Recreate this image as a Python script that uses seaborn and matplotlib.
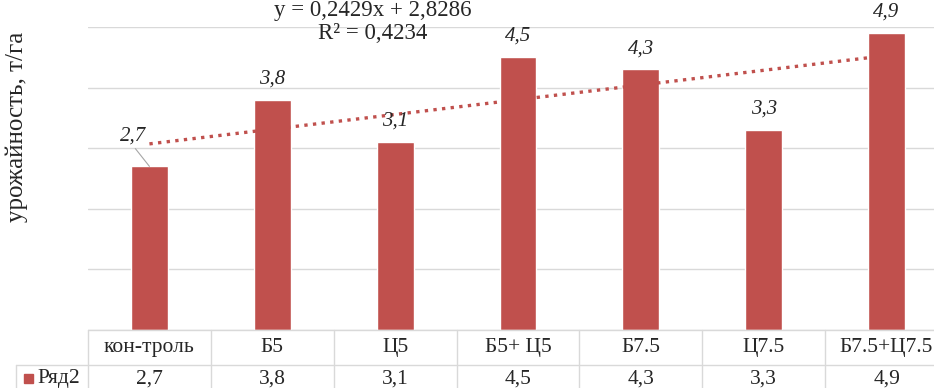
import matplotlib.pyplot as plt
import matplotlib.transforms as mtransforms
import numpy as np
import pandas as pd
import seaborn as sns

categories = ["кон-троль", "Б5", "Ц5", "Б5+ Ц5", "Б7.5", "Ц7.5", "Б7.5+Ц7.5"]
values = [2.7, 3.8, 3.1, 4.5, 4.3, 3.3, 4.9]
series_name = "Ряд2"
y_label = "урожайность, т/га"

bar_color = "#C0504D"
grid_color = "#D9D9D9"

sns.set_style("white")
plt.rcParams["font.family"] = ["Liberation Serif", "DejaVu Serif"]

df = pd.DataFrame({"cat": categories, "val": values})

fig = plt.figure(figsize=(9.34, 3.88), dpi=100)
# the original chart is cropped on the right, so the axes run past the edge
ax = fig.add_axes([88 / 934, 58 / 388, 860 / 934, 303 / 388])

sns.barplot(data=df, x="cat", y="val", color=bar_color, width=0.30,
            saturation=1, ax=ax, zorder=2)

# linear trend line (Excel style), x = 1..n
xs = np.arange(1, len(values) + 1)
slope, intercept = np.polyfit(xs, values, 1)
r2 = np.corrcoef(xs, values)[0, 1] ** 2
sns.lineplot(x=xs - 1, y=slope * xs + intercept, color="#C0504D", lw=2.4,
             linestyle=(0, (1, 1.6)), ax=ax, zorder=3)

ax.set_ylim(0, 5)
ax.set_xlim(-0.5, len(categories) - 0.5)
ax.set_yticks(range(0, 6))
ax.grid(axis="y", color=grid_color, lw=1, zorder=0)
ax.tick_params(left=False, bottom=False, labelleft=False, labelbottom=False)
for s in ax.spines.values():
    s.set_visible(False)
ax.set_xlabel("")
ax.set_ylabel("")

# data labels
for i, v in enumerate(values):
    txt = f"{v:.1f}".replace(".", ",")
    if i == 0:
        ax.annotate(txt, (i, v), xytext=(-12, 22), textcoords="offset points",
                    ha="center", va="center", fontsize=15, style="italic",
                    arrowprops=dict(arrowstyle="-", color="#A6A6A6", lw=0.8,
                                    shrinkA=0, shrinkB=0, relpos=(0.5, 0)))
    else:
        ax.annotate(txt, (i, v), xytext=(0, 15), textcoords="offset points",
                    ha="center", va="center", fontsize=15, style="italic")

# trendline equation
eq = f"y = {slope:.4f}x + {intercept:.4f}".replace(".", ",")
ax.text(1.82, 5.28, eq, ha="center", va="center", fontsize=16.5, clip_on=False)
ax.text(1.82, 4.9, f"R² = {r2:.4f}".replace(".", ","), ha="center", va="center",
        fontsize=16.5, clip_on=False)

fig.text(17 / 934, 1 - 127 / 388, y_label, rotation=90, ha="center", va="center",
         fontsize=18)

# data table under the plot
tr = mtransforms.blended_transform_factory(ax.transData, ax.transAxes)
row1 = -35 / 303
row2 = -58 / 303
n = len(categories)
line_kw = dict(color=grid_color, lw=1, clip_on=False)
ax.plot([-0.5, n - 0.5], [0, 0], transform=tr, **line_kw)
for b in np.arange(n + 1) - 0.5:
    ax.plot([b, b], [0, row2], transform=tr, **line_kw)
for i, (c, v) in enumerate(zip(categories, values)):
    ax.text(i, (0 + row1) / 2, c, transform=tr, ha="center", va="center", fontsize=15.5)
    ax.text(i, row1 - 0.045, f"{v:.1f}".replace(".", ","), transform=tr,
            ha="center", va="center", fontsize=15.5)

# legend cell on the left of the values row
fig.add_artist(plt.Line2D([16 / 934, 1], [1 - 365 / 388] * 2, color=grid_color, lw=1))
fig.add_artist(plt.Line2D([16 / 934] * 2, [1 - 365 / 388, 0], color=grid_color, lw=1))
fig.add_artist(plt.Rectangle((24 / 934, 1 - 383 / 388), 9 / 934, 9 / 388,
                             color=bar_color, transform=fig.transFigure))
fig.text(37 / 934, 1 - 378 / 388, series_name, ha="left", va="center", fontsize=15.5)

fig.savefig("out.png", dpi=100)
